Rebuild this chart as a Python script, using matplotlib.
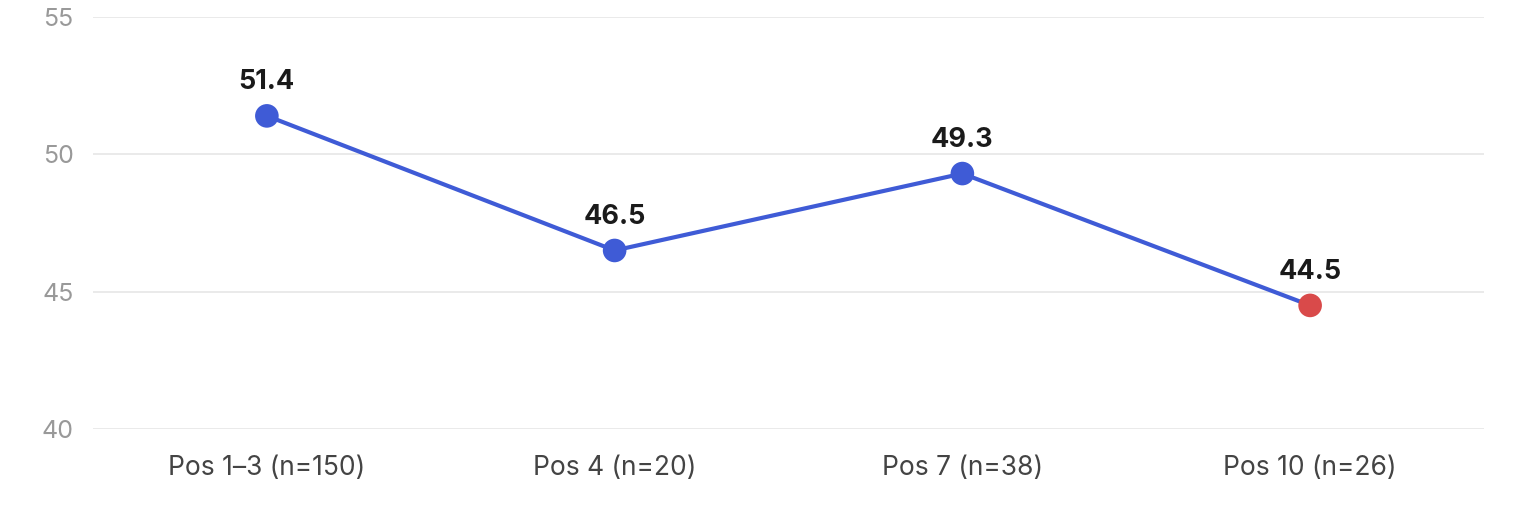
import matplotlib
matplotlib.use("Agg")
import matplotlib.pyplot as plt

categories = ["Pos 1–3 (n=150)", "Pos 4 (n=20)", "Pos 7 (n=38)", "Pos 10 (n=26)"]
values = [51.4, 46.5, 49.3, 44.5]
point_colors = ["#3f5bd6", "#3f5bd6", "#3f5bd6", "#d94a4a"]
y_ticks = [40, 45, 50, 55]

plt.rcParams['font.family'] = ['Inter', 'DejaVu Sans']

W, H, DPI = 1514, 508, 100
fig = plt.figure(figsize=(W / DPI, H / DPI), dpi=DPI)
ax = fig.add_axes([93 / W, (H - 429) / H, (1484 - 93) / W, (429 - 17) / H])

x = list(range(len(categories)))
ax.plot(x, values, color="#3f5bd6", linewidth=3, zorder=3, solid_capstyle='round')
ax.scatter(x, values, s=17**2, c=point_colors, zorder=4, linewidths=0)

for xi, v in zip(x, values):
    ax.annotate(f"{v}", (xi, v), xytext=(0, 19), textcoords="offset points",
                ha="center", va="baseline", fontsize=19.5, fontweight="bold", color="#1a1a1a")

ax.set_xlim(-0.5, len(categories) - 0.5)
ax.set_ylim(40, 55)
ax.set_yticks(y_ticks)
ax.set_yticklabels([str(t) for t in y_ticks])
ax.set_xticks(x)
ax.set_xticklabels(categories)

ax.grid(axis="y", color="#e6e6e6", linewidth=1.2)
ax.set_axisbelow(True)
for s in ax.spines.values():
    s.set_visible(False)
ax.tick_params(axis="y", length=0, pad=14, labelsize=18, labelcolor="#999999")
ax.tick_params(axis="x", length=0, pad=19, labelsize=19, labelcolor="#444444")

fig.savefig("out.png", dpi=DPI)
